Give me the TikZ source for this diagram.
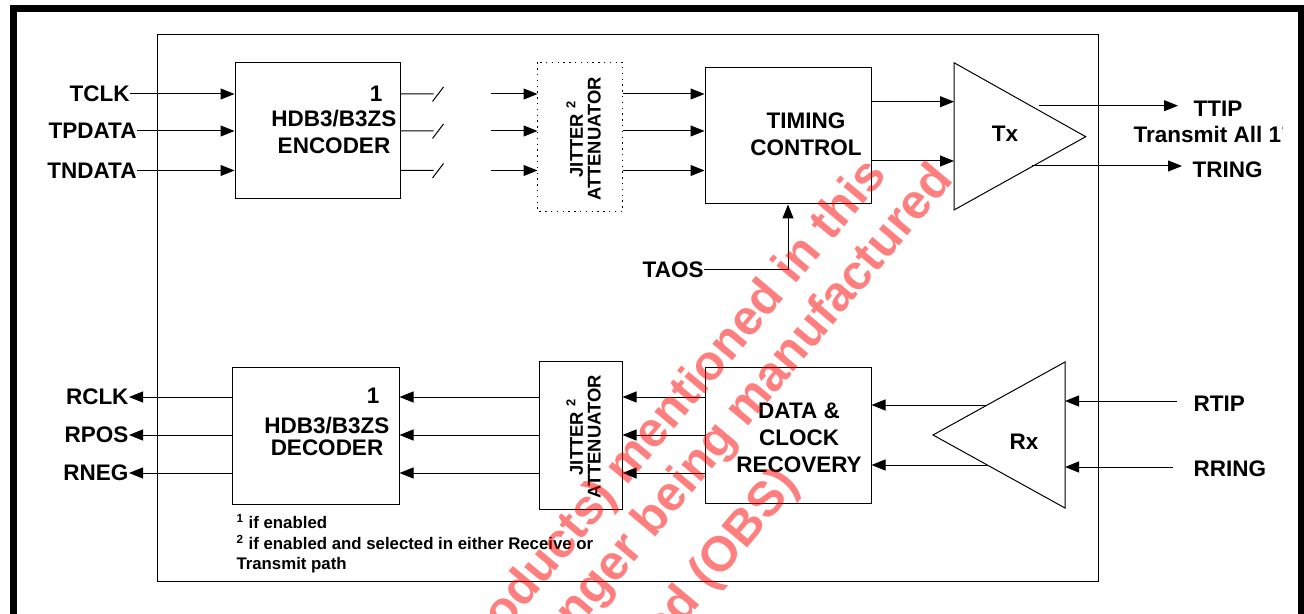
\documentclass[tikz,border=0pt]{standalone}
\usepackage{fontspec}
\setmainfont{Liberation Sans}
\usetikzlibrary{arrows.meta,positioning}

\tikzset{
  sig/.style={-{Triangle[length=7pt,width=5.5pt]}},
  blk/.style={draw,inner sep=0pt,minimum width=83pt,minimum height=68pt},
  pin/.style={font=\fontsize{11.25}{13.5}\selectfont\bfseries,inner sep=0pt},
  jtxt/.style={font=\fontsize{9.2}{8.8}\selectfont\bfseries,align=center,inner sep=0pt,rotate=90},
  note/.style={font=\fontsize{8.4}{10.35}\selectfont\bfseries,inner sep=0pt},
  wmark/.style={font=\fontsize{24.5}{24.5}\selectfont\bfseries,text=red,text opacity=0.5,inner sep=0pt,rotate=50}
}

\begin{document}
\begin{tikzpicture}[x=0.5pt,y=-0.5pt,line width=0.5pt]
\useasboundingbox (0,0) rectangle (1304,614);

% chip outline
\draw (157,35) rectangle (1098,581);

% transmit path
\node[blk,minimum width=82.5pt] (enc) at (317.5,131) {};
\node[pin,align=center] (enctext) at (334,132) {HDB3/B3ZS\\ENCODER};
\node[pin,anchor=east] (encidx) at (383,94) {1};
\node[blk,draw=none,minimum width=42pt,minimum height=74pt] (jita) at (580,137) {};
\draw[dash pattern=on 0.7pt off 2.2pt] (jita.north west) rectangle (jita.south east);
\node[jtxt] (jitatext) at (583.5,139) {JITTER \textsuperscript{2}\\ATTENUATOR};
\node[blk] (tim) at (788,136) {};
\node[pin,align=center] (timtext) at (806,134.7) {TIMING\\CONTROL};

\node[pin,anchor=east] (tclk) at (130,94) {TCLK};
\node[pin,anchor=east] (tpdata) at (137,131) {TPDATA};
\node[pin,anchor=east] (tndata) at (137,170.5) {TNDATA};

\foreach \r in {tclk,tpdata,tndata}{
  \draw[sig] (\r.east) -- (\r -| enc.west);
  \draw (\r -| enc.east) -- ++(33,0) ++(-1,7.5) -- ++(11,-14.5);
  \draw[sig] ([xshift=45pt]\r -| enc.east) -- (\r -| jita.west);
  \draw[sig] (\r -| jita.east) -- (\r -| tim.west);
}

% Tx driver
\coordinate (txa) at (954,62.7);
\coordinate (txb) at (954,210);
\coordinate (txc) at (1085.7,136.7);
\draw (txa) -- (txc) -- (txb) -- cycle;
\node[pin] (txlbl) at (1005,134) {Tx};
\draw[sig] ([yshift=17.15pt]tim.east) -- ([yshift=17.15pt]tim.east -| txa);
\draw[sig] ([yshift=-12.5pt]tim.east) -- ([yshift=-12.5pt]tim.east -| txa);

\node[pin,anchor=west] (ttip) at (1193,108.5) {TTIP};
\node[pin,anchor=west] (tring) at (1192,169.5) {TRING};
\begin{scope}
  \clip (1120,118) rectangle (1282,152);
  \node[pin,anchor=west] (txall) at (1133,134.5) {Transmit All 1's};
\end{scope}
\coordinate (ttipout) at (1039,105.7);
\coordinate (tringout) at (1032,166);
\draw[sig,shorten >=7.5pt] (ttipout) -- (ttipout -| ttip.west);
\draw[sig,shorten >=5pt] (tringout) -- (tringout -| tring.west);

\node[pin,anchor=east] (taos) at (704,270) {TAOS};
\draw[sig] (taos.east) -| (tim.south);

% receive path
\node[blk,minimum width=83.5pt,minimum height=68.5pt] (dec) at (315.5,435.5) {};
\node[pin,align=center,font=\fontsize{11.25}{10.75}\selectfont\bfseries] (dectext) at (327,436.5) {HDB3/B3ZS\\DECODER};
\node[pin,anchor=east] (decidx) at (380,395.7) {1};
\node[blk,minimum width=41.5pt,minimum height=74pt] (jitb) at (580.5,435) {};
\node[jtxt] (jitbtext) at (583.5,437) {JITTER \textsuperscript{2}\\ATTENUATOR};
\node[blk] (dcr) at (788,435) {};
\node[pin,align=center,font=\fontsize{11.25}{13.6}\selectfont\bfseries] (dcrtext) at (799,437.7) {DATA \&\\CLOCK\\RECOVERY};

\node[pin,anchor=east] (rclk) at (129,397) {RCLK};
\node[pin,anchor=east] (rpos) at (129,435) {RPOS};
\node[pin,anchor=east] (rneg) at (129,473) {RNEG};

\foreach \r in {rclk,rpos,rneg}{
  \draw[sig] (\r -| dec.west) -- (\r.east);
  \draw[sig] (\r -| jitb.west) -- (\r -| dec.east);
  \draw[sig] (\r -| dcr.west) -- (\r -| jitb.east);
}

% Rx receiver
\coordinate (rxa) at (1065,362);
\coordinate (rxb) at (1065,508);
\coordinate (rxc) at (933,435);
\draw (rxa) -- (rxc) -- (rxb) -- cycle;
\node[pin] (rxlbl) at (1024,441.5) {Rx};
\coordinate (rxout1) at (987,405);
\coordinate (rxout2) at (987,465);
\draw[sig] (rxout1) -- (rxout1 -| dcr.east);
\draw[sig] (rxout2) -- (rxout2 -| dcr.east);

\node[pin,anchor=west] (rtip) at (1193,404) {RTIP};
\node[pin,anchor=west] (rring) at (1193,469) {RRING};
\coordinate (rtipin) at (1177,401);
\coordinate (rringin) at (1173,467);
\draw[sig] (rtipin) -- (rtipin -| rxa);
\draw[sig] (rringin) -- (rringin -| rxa);

% footnotes
\node[note,anchor=base west] (note1) at (236,528) {\textsuperscript{1} if enabled};
\node[note,anchor=base west] (note2) at (236,549) {\textsuperscript{2} if enabled and selected in either Receive or};
\node[note,anchor=base west] (note3) at (236,569.5) {Transmit path};

% watermark
\begin{scope}
  \clip (0,0) rectangle (1304,614);
  \node[wmark,anchor=base east] (wm1) at (888,175) {products) mentioned in this};
  \node[wmark,anchor=base east] (wm2) at (955,180) {no longer being manufactured};
  \node[wmark,anchor=base east] (wm3) at (800,485) {obsoleted (OBS)};
\end{scope}

% frame
\draw[line width=3.5pt] (13.5,640) |- (1301.5,8.5) -- (1301.5,640);
\end{tikzpicture}
\end{document}
